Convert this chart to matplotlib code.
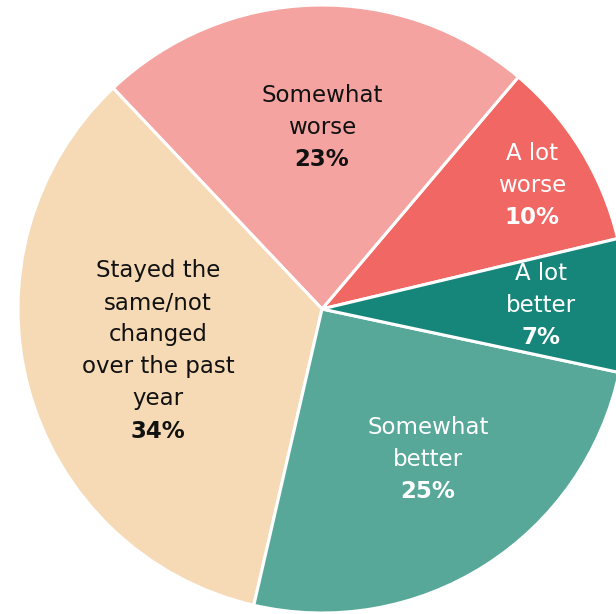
import numpy as np
import matplotlib
matplotlib.use("Agg")
import matplotlib.pyplot as plt

# data, counter-clockwise from the start angle
categories = ["A lot worse", "Somewhat worse", "Stayed the same/not changed over the past year",
              "Somewhat better", "A lot better"]
label_lines = [["A lot", "worse"], ["Somewhat", "worse"],
               ["Stayed the", "same/not", "changed", "over the past", "year"],
               ["Somewhat", "better"], ["A lot", "better"]]
values = [10, 23, 34, 25, 7]
pct_labels = ["10%", "23%", "34%", "25%", "7%"]

colors = ["#F06764", "#F4A3A0", "#F5DAB5", "#57A899", "#17867A"]
text_colors = ["white", "#111111", "#111111", "white", "white"]
# label block centres, pixels relative to pie centre
label_pos = [(210, 124), (0, 182), (-164, -42), (106, -151), (219, 3)]

fig = plt.figure(figsize=(6.16, 6.14), dpi=100)
ax = fig.add_axes([0, 0, 1, 1])

R = 304
ax.pie(values, colors=colors, startangle=13.4, counterclock=True, radius=R,
       wedgeprops=dict(edgecolor="white", linewidth=2.2))

fs = 16.5
sp = 32  # line spacing in px
for lines, pct, (cx, cy), tc in zip(label_lines, pct_labels, label_pos, text_colors):
    allrows = lines + [pct]
    n = len(allrows)
    for i, row in enumerate(allrows):
        y = cy + (n - 1) / 2 * sp - i * sp
        bold = (i == n - 1)
        ax.text(cx, y, row, ha="center", va="center", fontsize=fs, color=tc,
                fontweight="bold" if bold else "normal", family="DejaVu Sans")

ax.set_xlim(-322, 294)
ax.set_ylim(-305, 309)
ax.set_aspect("auto")
ax.axis("off")

fig.savefig("out.png", dpi=100)
